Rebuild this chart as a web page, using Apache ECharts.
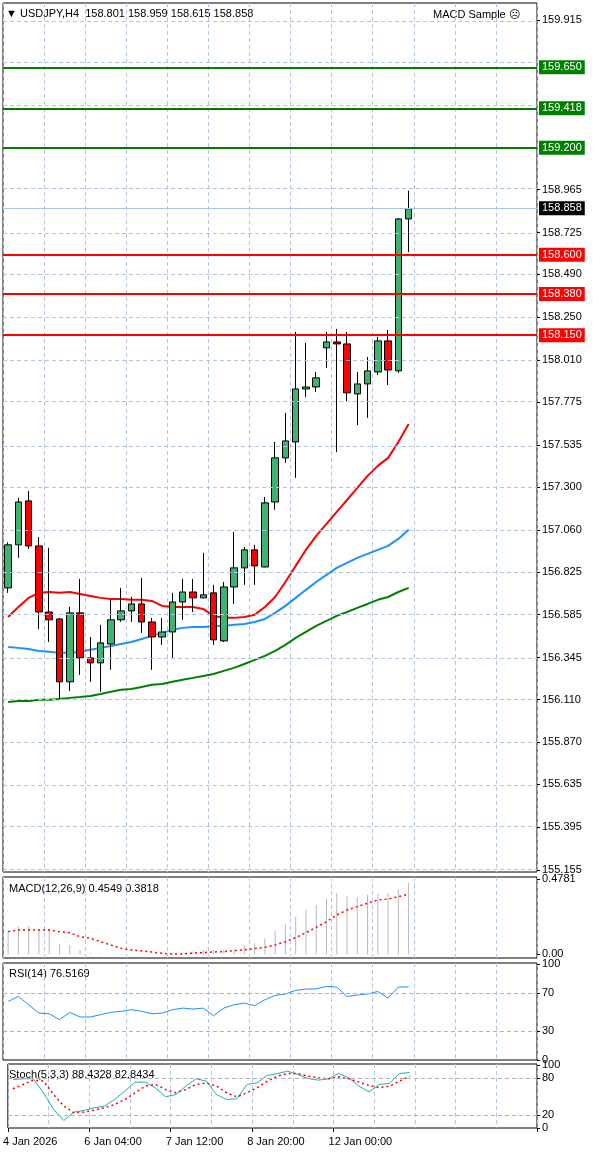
<!DOCTYPE html>
<html>
<head>
<meta charset="utf-8">
<script src="https://cdn.jsdelivr.net/npm/echarts@6/dist/echarts.min.js"></script>
<style>
html,body{margin:0;padding:0;background:#fff;}
#chart{width:600px;height:1155px;}
</style>
</head>
<body>
<div id="chart"></div>
<script>
// USDJPY H4 candles: [open, close, low, high]
var candles = [
    [156.735,156.976,156.707,156.990],[156.976,157.216,156.903,157.239],[157.222,156.970,156.953,157.278],
    [156.970,156.600,156.505,157.020],[156.600,156.556,156.432,156.959],[156.561,156.209,156.108,156.565],
    [156.209,156.595,156.158,156.628],[156.595,156.343,156.248,156.785],[156.343,156.315,156.209,156.460],
    [156.315,156.427,156.153,156.528],[156.421,156.556,156.276,156.668],[156.556,156.606,156.544,156.735],
    [156.606,156.645,156.544,156.684],[156.645,156.544,156.483,156.791],[156.544,156.460,156.276,156.567],
    [156.460,156.488,156.416,156.567],[156.488,156.656,156.343,156.707],[156.656,156.712,156.556,156.785],
    [156.712,156.679,156.600,156.785],[156.679,156.696,156.679,156.931],[156.707,156.444,156.416,156.752],
    [156.438,156.740,156.432,156.768],[156.740,156.847,156.645,157.048],[156.847,156.948,156.752,156.964],
    [156.948,156.858,156.752,156.976],[156.852,157.211,156.850,157.244],[157.216,157.463,157.172,157.552],
    [157.463,157.558,157.435,157.715],[157.552,157.849,157.351,158.168],[157.849,157.860,157.804,158.107],
    [157.860,157.911,157.832,157.944],[158.079,158.112,157.967,158.168],[158.112,158.101,157.496,158.185],
    [158.101,157.827,157.776,158.168],[157.821,157.877,157.647,157.944],[157.877,157.950,157.687,158.028],
    [157.944,158.118,157.927,158.140],[158.118,157.955,157.871,158.179],[157.950,158.801,157.939,158.806],
    [158.801,158.858,158.615,158.959]
];
var maRed = [156.572,156.628,156.679,156.707,156.712,156.707,156.712,156.701,156.690,156.679,156.673,156.673,156.668,156.668,156.662,156.634,156.628,156.628,156.628,156.617,156.578,156.567,156.567,156.572,156.584,156.628,156.684,156.768,156.858,156.948,157.026,157.093,157.160,157.227,157.295,157.362,157.418,157.463,157.552,157.653];
var maBlue = [156.404,156.399,156.393,156.382,156.377,156.371,156.371,156.377,156.388,156.399,156.410,156.421,156.432,156.449,156.466,156.483,156.500,156.511,156.516,156.516,156.522,156.522,156.528,156.533,156.544,156.561,156.595,156.634,156.679,156.724,156.768,156.808,156.847,156.875,156.903,156.925,156.948,156.970,157.009,157.060];
var maGreen = [156.096,156.102,156.102,156.108,156.108,156.113,156.119,156.124,156.130,156.141,156.153,156.164,156.169,156.180,156.192,156.197,156.209,156.220,156.231,156.242,156.253,156.270,156.287,156.309,156.332,156.354,156.382,156.416,156.455,156.488,156.522,156.550,156.578,156.600,156.623,156.645,156.668,156.684,156.712,156.735];
var macdMain = [0.144,0.176,0.180,0.159,0.159,0.066,0.059,0.028,0.006,0.003,0.002,0.003,0.002,0.003,0.002,0.003,0.004,0.008,0.017,0.028,0.028,0.028,0.032,0.059,0.070,0.102,0.148,0.193,0.239,0.281,0.313,0.355,0.391,0.370,0.362,0.377,0.383,0.391,0.413,0.455];
var macdSignal = [0.144,0.154,0.154,0.154,0.154,0.144,0.137,0.112,0.102,0.080,0.059,0.038,0.028,0.021,0.015,0.006,0.002,0.002,0.008,0.011,0.015,0.017,0.023,0.028,0.036,0.044,0.059,0.080,0.106,0.137,0.171,0.207,0.250,0.281,0.303,0.324,0.345,0.351,0.366,0.382];
var rsi = [61.3,66.5,57.8,49.1,48.4,42.2,49.8,45.0,45.0,47.4,49.8,50.9,52.6,50.9,48.4,49.1,52.6,54.3,53.3,54.3,46.3,54.3,57.8,59.6,56.8,63.0,67.6,69.0,72.8,74.2,74.5,77.0,76.3,66.5,67.9,69.0,71.7,64.8,76.3,76.5];
var stochMain = [77.3,78.4,78.4,56.1,29.5,12.0,25.3,28.0,32.2,34.9,45.5,58.8,73.1,73.1,64.1,49.7,53.4,66.7,78.4,74.7,53.4,45.5,46.5,69.4,72.0,83.7,86.9,90.6,85.3,78.9,76.3,78.4,86.9,80.0,66.7,57.7,69.4,71.0,86.9,88.4];
var stochSignal = [62.5,69.4,76.3,74.7,53.4,34.9,24.2,25.3,28.5,32.2,37.5,45.5,56.1,66.7,69.4,61.4,56.1,61.4,69.4,72.0,66.7,56.1,49.7,56.1,64.1,74.7,82.7,86.9,86.9,82.7,80.0,78.4,81.6,78.4,73.1,67.8,64.1,66.7,74.7,82.8];
var priceTicks = [159.915,159.677,159.439,159.201,158.965,158.725,158.490,158.250,158.010,157.775,157.535,157.300,157.060,156.825,156.585,156.345,156.110,155.870,155.635,155.395,155.155];
var hiddenTicks = [159.677,159.439,159.201];
var greenLevels = [159.650,159.418,159.200];
var redLevels = [158.600,158.380,158.150];
var bidPrice = 158.858;
var dateLabels = {0:'4 Jan 2026',8:'6 Jan 04:00',16:'7 Jan 12:00',24:'8 Jan 20:00',32:'12 Jan 00:00'};
var slotCount = 52;

var FONT = 'Liberation Sans';
var gridColor = '#b3c6de';
var slots = [];
for (var s = 0; s < slotCount; s++) slots.push(s);

function xAxisFor(idx, showLabels){
    return {
        type:'category', gridIndex:idx, data:slots, boundaryGap:true,
        axisLine:{show:false},
        axisTick:{show:showLabels, interval:function(i){return dateLabels[i] !== undefined;}, length:4, lineStyle:{color:'#000'}},
        axisLabel:{show:showLabels, interval:function(i){return dateLabels[i] !== undefined;},
            formatter:function(v){return dateLabels[v] || '';}, align:'left', padding:[0,0,0,-10],
            color:'#000', fontFamily:FONT, fontSize:11, margin:8},
        splitLine:{show:true, interval:3, lineStyle:{color:gridColor, type:[4,3], width:1}}
    };
}
function yAxisFor(idx, min, max, labels){
    return {
        type:'value', gridIndex:idx, min:min, max:max, position:'right',
        axisLine:{show:false},
        axisTick:{show:true, customValues:labels, length:3, lineStyle:{color:'#000'}},
        axisLabel:{show:true, customValues:labels, hideOverlap:false, showMinLabel:true, showMaxLabel:true,
            color:'#000', fontFamily:FONT, fontSize:11, margin:5,
            formatter:function(v){return labelText(idx, v);}},
        splitLine:{show:false}
    };
}
function labelText(idx, v){
    if (idx === 0) return v.toFixed(3);
    if (idx === 1) return v < 0.01 ? '0.00' : v.toFixed(4);
    return String(Math.round(v));
}
function hLine(v, color, type){
    return {yAxis:v, lineStyle:{color:color, type:type, width:1}, label:{show:false}};
}

var gridLines = priceTicks.map(function(v){ return hLine(v, gridColor, [4,3]); });
var levelLines = [];
function levelLine(v, color, bg, width){
    return {yAxis:v, lineStyle:{color:color, width:width, type:'solid'},
        label:{show:true, position:'end', formatter:v.toFixed(3), backgroundColor:bg, color:'#fff',
            fontFamily:FONT, fontSize:11, padding:[2,3,1,3], distance:2}};
}
greenLevels.forEach(function(v){ levelLines.push(levelLine(v, '#008000', '#008000', 2)); });
redLevels.forEach(function(v){ levelLines.push(levelLine(v, '#ff0000', '#ff0000', 2)); });
levelLines.push(levelLine(bidPrice, '#a8c8f0', '#000', 1));

function lineSeries(data, xi, color, width, type){
    return {type:'line', xAxisIndex:xi, yAxisIndex:xi, data:data, symbol:'none', silent:true,
        lineStyle:{color:color, width:width, type:type || 'solid'}, z:3};
}

var chart = echarts.init(document.getElementById('chart'), null, {renderer:'canvas'});
chart.setOption({
    backgroundColor:'#fff',
    animation:false,
    grid:[
        {left:3, top:3, width:534, height:869, show:true, borderColor:'#000', borderWidth:1},
        {left:3, top:877, width:534, height:81, show:true, borderColor:'#000', borderWidth:1},
        {left:3, top:963, width:534, height:97, show:true, borderColor:'#000', borderWidth:1},
        {left:3, top:1064, width:534, height:64, show:true, borderColor:'#000', borderWidth:1}
    ],
    xAxis:[xAxisFor(0,false), xAxisFor(1,false), xAxisFor(2,false), xAxisFor(3,true)],
    yAxis:[
        yAxisFor(0, 155.144, 160.010, priceTicks.filter(function(v){return hiddenTicks.indexOf(v) < 0;})),
        yAxisFor(1, -0.0235, 0.491, [0.4781, 0.0321, 0]),
        yAxisFor(2, 0, 101.5, [100, 70, 30, 0]),
        yAxisFor(3, 0, 102, [100, 80, 20, 0])
    ],
    series:[
        {type:'line', xAxisIndex:0, yAxisIndex:0, data:[], silent:true,
            markLine:{symbol:'none', silent:true, animation:false, data:gridLines}, z:1},
        {type:'candlestick', xAxisIndex:0, yAxisIndex:0, data:candles, barWidth:7, silent:true,
            itemStyle:{color:'#3cb371', color0:'#ff0000', borderColor:'#000', borderColor0:'#000', borderWidth:1},
            markLine:{symbol:'none', silent:true, animation:false, data:levelLines}, z:4},
        lineSeries(maRed, 0, '#ff0000', 2),
        lineSeries(maBlue, 0, '#1e90ff', 2),
        lineSeries(maGreen, 0, '#008000', 2),
        {type:'bar', xAxisIndex:1, yAxisIndex:1, data:macdMain, barWidth:1, silent:true,
            itemStyle:{color:'#b8b8b8'}},
        lineSeries(macdSignal, 1, '#ff0000', 1.5, [2,3]),
        {type:'line', xAxisIndex:2, yAxisIndex:2, data:rsi, symbol:'none', silent:true,
            lineStyle:{color:'#1e90ff', width:1},
            markLine:{symbol:'none', silent:true, animation:false, data:[hLine(70,'#b0b0b0',[4,3]), hLine(30,'#b0b0b0',[4,3])]}},
        {type:'line', xAxisIndex:3, yAxisIndex:3, data:stochMain, symbol:'none', silent:true,
            lineStyle:{color:'#20b2aa', width:1},
            markLine:{symbol:'none', silent:true, animation:false, data:[hLine(80,'#b0b0b0',[4,3]), hLine(20,'#b0b0b0',[4,3])]}},
        lineSeries(stochSignal, 3, '#ff0000', 1.5, [2,3])
    ],
    graphic:[
        {type:'text', left:6, top:8, style:{text:'▼ USDJPY,H4  158.801 158.959 158.615 158.858', fill:'#000', font:'11px "'+FONT+'"'}},
        {type:'text', left:433, top:9, style:{text:'MACD Sample ☹', fill:'#000', font:'11px "'+FONT+'"'}},
        {type:'text', left:9, top:883, style:{text:'MACD(12,26,9) 0.4549 0.3818', fill:'#000', font:'11px "'+FONT+'"'}},
        {type:'text', left:9, top:968, style:{text:'RSI(14) 76.5169', fill:'#000', font:'11px "'+FONT+'"'}},
        {type:'text', left:9, top:1069, style:{text:'Stoch(5,3,3) 88.4328 82.8434', fill:'#000', font:'11px "'+FONT+'"'}}
    ]
});
</script>
</body>
</html>
